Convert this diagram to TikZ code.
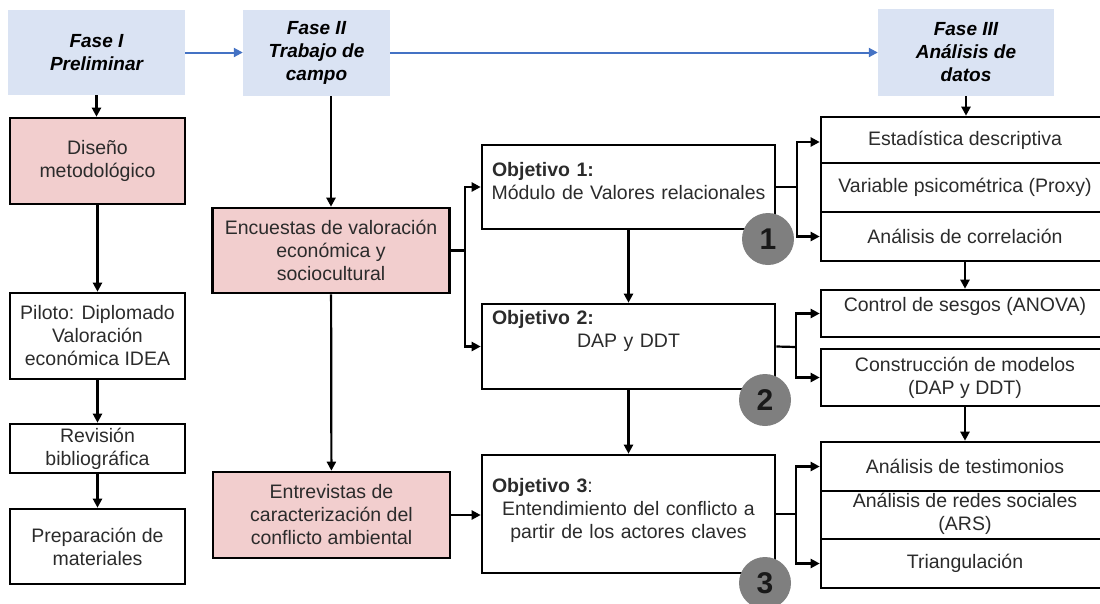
\documentclass[tikz,border=0pt]{standalone}
\usepackage{fontspec}
\setmainfont{Liberation Sans}
\usetikzlibrary{arrows.meta}
\definecolor{phase}{HTML}{DAE3F3}
\definecolor{rose}{HTML}{F2CECE}
\definecolor{flow}{HTML}{4472C4}
\definecolor{ink}{HTML}{2B2B2B}
\definecolor{badge}{HTML}{7F7F7F}
\newcommand{\objcentre}[1]{\makebox[\linewidth]{#1}}
\newcommand{\objlabel}[1]{\makebox[\linewidth][l]{#1}}

\begin{document}
\begin{tikzpicture}[x=1pt,y=-1pt,
  base/.style={font=\fontsize{19.5}{23}\selectfont, align=center, inner sep=0pt, text=ink},
  phasebox/.style={base, fill=phase, text=black, font=\fontsize{19}{23}\selectfont\bfseries\itshape},
  box/.style={base, draw=black, line width=2.6pt},
  pinkbox/.style={box, fill=rose},
  objtext/.style={base, text width=273pt},
  arr/.style={line width=2.2pt, -{Triangle[length=9pt,width=9pt]}},
  link/.style={line width=2.2pt},
  bluearr/.style={line width=2pt, draw=flow, -{Triangle[length=9pt,width=9pt]}},
  badgestyle/.style={circle, fill=badge, minimum size=52pt, inner sep=0pt,
    font=\fontsize{30}{30}\selectfont\bfseries, text=black!90},
]
\clip (0,0) rectangle (1100,603);

% phase headers
\node[phasebox, minimum width=177pt, minimum height=85pt] (f1) at (96.5,52.5) {Fase I\\Preliminar};
\node[phasebox, minimum width=147pt, minimum height=86pt] (f2) at (316.5,53) {Fase II\\Trabajo de\\campo};
\node[phasebox, minimum width=176pt, minimum height=87pt] (f3) at (966,52.5) {Fase III\\Análisis de\\datos};

% phase I column
\node[pinkbox, minimum width=175pt, minimum height=86pt] (dis) at (97.5,161) {Diseño\\metodológico};
\node[box, minimum width=175pt, minimum height=86pt] (pil) at (97.5,336) {Piloto: Diplomado\\Valoración\\económica IDEA};
\node[box, minimum width=175pt, minimum height=49pt] (rev) at (97.5,448.5) {Revisión\\bibliográfica};
\node[box, minimum width=175pt, minimum height=75pt] (pre) at (97.5,546.5) {Preparación de\\materiales};

% phase II column
\node[pinkbox, minimum width=237pt, minimum height=85pt] (enc) at (331,250.5) {Encuestas de valoración\\económica y\\sociocultural};
\node[pinkbox, minimum width=237pt, minimum height=86pt] (ent) at (331.5,515) {Entrevistas de\\caracterización del\\conflicto ambiental};

% objectives
\node[box, minimum width=293pt, minimum height=84pt] (o1) at (628.5,187) {};
\node[box, minimum width=293pt, minimum height=85pt] (o2) at (628.5,346.5) {};
\node[box, minimum width=293pt, minimum height=118pt] (o3) at (628.5,514) {};
\node[objtext] (o1t) at (628.5,181) {\objlabel{\textbf{Objetivo 1:}}\\\objcentre{Módulo de Valores relacionales}};
\node[objtext] (o2t) at (628.5,331) {\objlabel{\textbf{Objetivo 2:}}\\\objcentre{DAP y DDT}};
\node[objtext] (o3t) at (628.5,510) {\objlabel{\textbf{Objetivo 3}:}\\\objcentre{Entendimiento del conflicto a}\\\objcentre{partir de los actores claves}};

% phase III analyses
\node[box, minimum width=288pt, minimum height=46pt] (a1) at (965,140) {Estadística descriptiva};
\node[box, minimum width=288pt, minimum height=49pt] (a2) at (965,187.5) {Variable psicométrica (Proxy)};
\node[box, minimum width=288pt, minimum height=49pt] (a3) at (965,236.5) {Análisis de correlación};
\node[box, minimum width=288pt, minimum height=47pt] (b1) at (965,313.5) {};
\node[base] (b1t) at (965,306) {Control de sesgos (ANOVA)};
\node[box, minimum width=288pt, minimum height=57pt] (b2) at (965,377.5) {Construcción de modelos\\(DAP y DDT)};
\node[box, minimum width=288pt, minimum height=49pt] (c1) at (965,466.5) {Análisis de testimonios};
\node[box, minimum width=288pt, minimum height=48pt] (c2) at (965,515) {};
\node[base] (c2t) at (965,514) {Análisis de redes sociales\\(ARS)};
\node[box, minimum width=288pt, minimum height=49pt] (c3) at (965,563.5) {Triangulación};

% blue phase flow
\draw[bluearr] (f1.east) -- (f1.east -| f2.west);
\draw[bluearr] (f2.east |- f3.west) -- (f3.west);

% phase I chain
\draw[arr] (f1.south) -- (f1.south |- dis.north);
\draw[arr] (dis) -- (pil);
\draw[arr] (pil) -- (rev);
\draw[arr] (rev) -- (pre);

% phase II chain
\draw[arr] (enc.north |- f2.south) -- (enc.north);
\draw[arr] (enc) -- (ent);
\coordinate (j1) at (465,250.5);
\draw[link] (enc.east) -- (j1);
\draw[arr] (j1) |- (o1.west);
\draw[arr] (j1) |- (o2.west);
\draw[arr] (ent.east) -- (ent.east -| o3.west);
\draw[arr] (o1) -- (o2);
\draw[arr] (o2) -- (o3);

% phase III chain
\draw[arr] (f3.south) -- (f3.south |- a1.north);
\draw[arr] (a3.south) -- (b1.north);
\draw[arr] (b2.south) -- (c1.north);

\coordinate (j2) at (797,187);
\draw[link] (o1.east) -- (j2);
\draw[arr] (j2) |- ([yshift=-2pt]a1.west);
\draw[arr] (j2) |- (a3.west);

\coordinate (j3) at (796,347);
\draw[link] (o2.east) -- (j3);
\draw[arr] (j3) |- (b1.west);
\draw[arr] (j3) |- (b2.west);

\coordinate (j4) at (796,514);
\draw[link] (o3.east) -- (j4);
\draw[arr] (j4) |- (c1.west);
\draw[arr] (j4) |- (c3.west);

% numbered badges
\node[badgestyle] (n1) at (768,239) {1};
\node[badgestyle] (n2) at (765,400) {2};
\node[badgestyle] (n3) at (765,583) {3};
\end{tikzpicture}
\end{document}
